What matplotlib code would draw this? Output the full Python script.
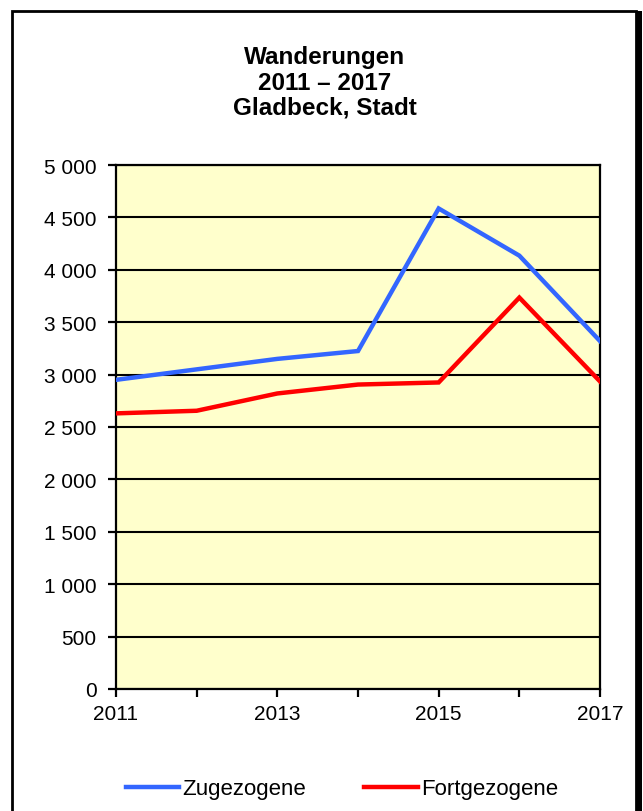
import matplotlib
matplotlib.use("Agg")
import matplotlib.pyplot as plt
from matplotlib.patches import Rectangle
from matplotlib.ticker import FuncFormatter

# --- data ---
years = [2011, 2012, 2013, 2014, 2015, 2016, 2017]
zugezogene = [2950, 3050, 3150, 3225, 4585, 4135, 3320]
fortgezogene = [2630, 2655, 2820, 2905, 2925, 3735, 2935]
year_labels = [2011, 2013, 2015, 2017]
y_ticks = [0, 500, 1000, 1500, 2000, 2500, 3000, 3500, 4000, 4500, 5000]

plt.rcParams['font.family'] = ['Liberation Sans', 'DejaVu Sans']

fig = plt.figure(figsize=(6.43, 8.12), dpi=100)

# outer frame with small shadow on the right (behind the axes)
fig.patches.append(Rectangle((16 / 643, -0.05), 626 / 643, (812 - 12) / 812 + 0.05,
                             transform=fig.transFigure, facecolor='black',
                             edgecolor='none', zorder=-2))
fig.patches.append(Rectangle((12 / 643, -0.05), 624 / 643, (812 - 12) / 812 + 0.05,
                             transform=fig.transFigure, facecolor='white',
                             edgecolor='black', linewidth=2, zorder=-1))

ax = fig.add_axes([116 / 643, 122 / 812, 484 / 643, 524 / 812])
ax.set_zorder(2)
ax.set_facecolor('#FFFFCC')

ax.plot(years, zugezogene, color='#3366FF', lw=3.2, label='Zugezogene',
        solid_joinstyle='miter', zorder=3)
ax.plot(years, fortgezogene, color='#FF0000', lw=3.2, label='Fortgezogene',
        solid_joinstyle='miter', zorder=3)

ax.set_xlim(2011, 2017)
ax.set_ylim(0, 5000)
ax.set_xticks(years)
ax.set_xticklabels([str(y) if y in year_labels else '' for y in years])
ax.set_yticks(y_ticks)
ax.yaxis.set_major_formatter(FuncFormatter(lambda v, p: f"{int(v):,}".replace(',', ' ')))
ax.grid(axis='y', color='black', lw=1.5, zorder=1)
ax.set_axisbelow(True)
ax.tick_params(direction='out', length=6, width=1.6, labelsize=15, color='black')
ax.tick_params(axis='y', pad=8)
ax.tick_params(axis='x', pad=5)
for s in ax.spines.values():
    s.set_linewidth(1.6)
    s.set_color('black')

fig.text(325 / 643, 1 - 83 / 812, 'Wanderungen\n2011 – 2017\nGladbeck, Stadt',
         ha='center', va='center', fontsize=17.5, fontweight='bold', linespacing=1.12)

fig.legend(loc='center', bbox_to_anchor=(342 / 643, 1 - 790 / 812), ncol=2,
           frameon=False, fontsize=16, handlelength=2.4, handletextpad=0.15,
           columnspacing=2.6)

fig.savefig('out.png', dpi=100)
